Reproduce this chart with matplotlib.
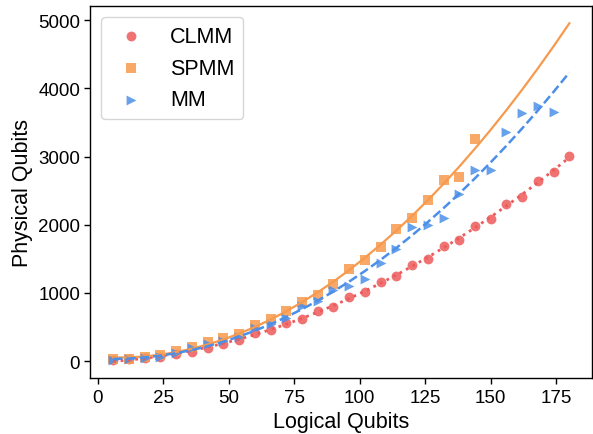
import numpy as np
import matplotlib
matplotlib.use("Agg")
import matplotlib.pyplot as plt

plt.rcParams['font.family'] = ['Liberation Sans', 'DejaVu Sans']

# logical qubits (x) for each scheme
x_clmm = [6, 12, 18, 24, 30, 36, 42, 48, 54, 60, 66, 72, 78, 84, 90,
          96, 102, 108, 114, 120, 126, 132, 138, 144, 150, 156, 162, 168, 174, 180]
x_spmm = x_clmm[:24]
x_mm = x_clmm[:29]

# physical qubits
y_clmm = [12, 25, 42, 68, 100, 140, 193, 258, 308, 419, 453, 556, 620, 740, 800,
          938, 1010, 1165, 1245, 1417, 1500, 1692, 1781, 1979, 2085, 2300, 2413, 2647, 2767, 3010]
y_spmm = [25, 33, 58, 97, 155, 203, 275, 337, 405, 537, 617, 740, 868, 974, 1138,
          1355, 1488, 1670, 1936, 2092, 2367, 2654, 2700, 3252]
y_mm = [19, 29, 48, 68, 125, 188, 250, 299, 357, 487, 552, 636, 805, 887, 1037,
        1104, 1200, 1432, 1644, 1962, 2000, 2102, 2456, 2800, 2800, 3356, 3645, 3734, 3654]

c_red = '#EE5A5A'
c_orange = '#F79A4E'
c_blue = '#4C8FE8'

fig = plt.figure(figsize=(5.93, 4.35), dpi=100)
ax = fig.add_axes([0.1526, 0.128, 0.846, 0.855])

xfit = np.array(x_clmm)

# scatter + quadratic fit for each scheme
ax.scatter(x_clmm, y_clmm, s=50, marker='o', color=c_red, alpha=0.85, linewidths=0, label='CLMM')
ax.plot(xfit, np.polyval(np.polyfit(x_clmm, y_clmm, 2), xfit), ':', color=c_red, lw=2)

ax.scatter(x_spmm, y_spmm, s=50, marker='s', color=c_orange, alpha=0.85, linewidths=0, label='SPMM')
ax.plot(xfit, np.polyval(np.polyfit(x_spmm, y_spmm, 2), xfit), '-', color=c_orange, lw=1.6)

ax.scatter(x_mm, y_mm, s=50, marker='>', color=c_blue, alpha=0.85, linewidths=0, label='MM')
ax.plot(xfit, np.polyval(np.polyfit(x_mm, y_mm, 2), xfit), '--', color=c_blue, lw=1.8)

ax.set_xticks([0, 25, 50, 75, 100, 125, 150, 175])
ax.set_yticks([0, 1000, 2000, 3000, 4000, 5000])
ax.tick_params(labelsize=13.5, direction='out', length=4, width=1)
ax.set_xlabel('Logical Qubits', fontsize=15.5)
ax.set_ylabel('Physical Qubits', fontsize=15.5)
for sp in ax.spines.values():
    sp.set_linewidth(1)

ax.legend(loc='upper left', fontsize=15.5)

fig.savefig('out.png', dpi=100)
